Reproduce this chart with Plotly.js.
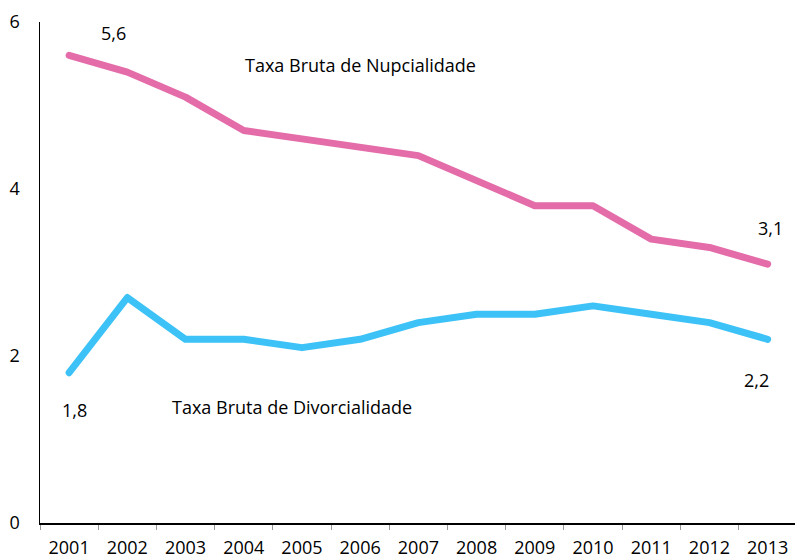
<!DOCTYPE html>
<html><head><meta charset="utf-8">
<script src="https://cdn.plot.ly/plotly-3.0.1.min.js"></script>
<style>html,body{margin:0;padding:0;overflow:hidden;background:#fff}
.scatterlayer path.js-line{stroke-linecap:round !important;stroke-linejoin:round !important}</style>
</head><body><div id="chart" style="width:795px;height:559px"></div>
<script>
const years = ['2001','2002','2003','2004','2005','2006','2007','2008','2009','2010','2011','2012','2013'];
const nupcialidade = [5.6,5.4,5.1,4.7,4.6,4.5,4.4,4.1,3.8,3.8,3.4,3.3,3.1];
const divorcialidade = [1.8,2.7,2.2,2.2,2.1,2.2,2.4,2.5,2.5,2.6,2.5,2.4,2.2];
const seriesNames = ['Taxa Bruta de Nupcialidade','Taxa Bruta de Divorcialidade'];
const yTicks = [0,2,4,6];

const fmt = v => String(v).replace('.', ',');
const last = years.length - 1;
const font = {family: 'Open Sans, Noto Sans, sans-serif', size: 18, color: '#000'};

const traces = [
  {x: years, y: nupcialidade, type: 'scatter', mode: 'lines', name: seriesNames[0],
   line: {color: '#e36ca9', width: 7}},
  {x: years, y: divorcialidade, type: 'scatter', mode: 'lines', name: seriesNames[1],
   line: {color: '#3cc2f7', width: 7}}
];

const ann = (x, y, text) => ({x, y, xref: 'x', yref: 'y', text, showarrow: false, font});
const layout = {
  width: 795, height: 559,
  margin: {l: 40, r: 0, t: 22, b: 36},
  showlegend: false,
  paper_bgcolor: '#fff', plot_bgcolor: '#fff',
  font: font,
  xaxis: {type: 'category', range: [-0.5, 12.47], showline: true, linecolor: '#000', linewidth: 1.5,
          ticks: 'outside', tickson: 'boundaries', ticklen: 5, tickcolor: '#999', tickwidth: 1,
          showgrid: false, zeroline: false, tickfont: {family: font.family, size: 18, color: '#000'},
          ticklabelstandoff: 8},
  yaxis: {range: [0, 6], tickvals: yTicks, ticktext: yTicks.map(String), showline: true, linecolor: '#000',
          linewidth: 1.5, ticks: '', showgrid: false, zeroline: false,
          tickfont: {family: font.family, size: 18, color: '#000'}, ticklabelstandoff: 15},
  annotations: [
    ann(0.76, 5.87, fmt(nupcialidade[0])),
    ann(12.05, 3.53, fmt(nupcialidade[last])),
    ann(0.1, 1.35, fmt(divorcialidade[0])),
    ann(11.8, 1.71, fmt(divorcialidade[last])),
    ann(5.01, 5.49, seriesNames[0]),
    ann(3.83, 1.39, seriesNames[1])
  ]
};
Plotly.newPlot('chart', traces, layout, {displayModeBar: false, staticPlot: true});
</script></body></html>
